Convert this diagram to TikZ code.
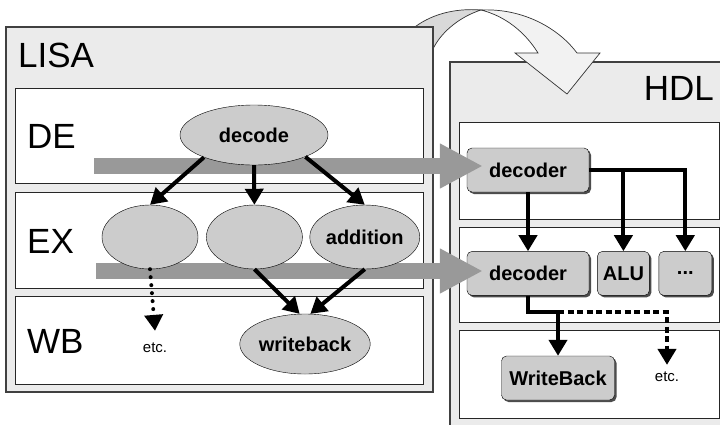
\documentclass[tikz,border=0pt]{standalone}
\usepackage{fontspec}
\setmainfont{Liberation Sans}
\usetikzlibrary{positioning,arrows.meta,shapes.geometric,calc,shadows}
\definecolor{panelgray}{HTML}{EBEBEB}
\definecolor{blobgray}{HTML}{CCCCCC}
\definecolor{pipegray}{HTML}{999999}
\definecolor{ribbonlight}{HTML}{F2F2F2}
\definecolor{ribbondark}{HTML}{D9D9D9}

\begin{document}
\begin{tikzpicture}[
  x=1pt, y=-1pt,
  node distance=8pt,
  panel/.style={draw=black!75, fill=panelgray, line width=1.2pt},
  band/.style={draw=black!85, fill=white, line width=1pt},
  title/.style={font=\fontsize{35}{40}\selectfont, inner sep=0pt},
  op/.style={draw, ellipse, fill=blobgray, inner sep=0pt,
             font=\fontsize{20}{22}\selectfont\bfseries},
  unit/.style={draw, rounded corners=5pt, fill=blobgray, inner sep=0pt,
               minimum height=44pt, font=\fontsize{20}{22}\selectfont\bfseries,
               drop shadow={shadow xshift=2pt, shadow yshift=-2pt, fill=black!70, opacity=1}},
  note/.style={font=\fontsize{15}{17}\selectfont, inner sep=2pt},
  edge/.style={-{Triangle[width=18pt,length=16pt]}, line width=4pt},
  dots/.style={edge, dash pattern=on 0pt off 8pt, line cap=round},
  hdots/.style={edge, dash pattern=on 6pt off 3.5pt},
  pipe/.style={draw=pipegray, line width=16pt, -{Triangle[width=42pt,length=43pt]}}
]
\useasboundingbox (0,0) rectangle (720,424);
\clip (0,0) rectangle (720,424);

\draw[panel] (450,62) rectangle (740,440);
\foreach \t/\b in {122/219, 227/322, 330/418}
  \draw[band] (459,\t) rectangle (719,\b);

\filldraw[fill=ribbondark, draw=black!80, line width=0.7pt]
  (411,30) .. controls (430,14) and (455,8) .. (481,10)
  .. controls (462,16) and (443,30) .. (434,47) -- cycle;
\filldraw[fill=ribbonlight, draw=black!80, line width=0.7pt]
  (481,10) .. controls (525,8) and (560,30) .. (577,53) -- (600,53) -- (567,94)
  -- (515,53) -- (538,53) .. controls (525,32) and (505,16) .. (481,10) -- cycle;

\draw[panel] (6,27) rectangle (433,392);
\foreach \t/\b in {88/183, 192/288, 296/384}
  \draw[band] (15,\t) rectangle (423,\b);

\node[title, anchor=base west] (lisa) at (18,67) {LISA};
\node[title, anchor=base east] (hdl) at (714,100) {HDL};
\node[title, anchor=base west] (de) at (27,148) {DE};
\node[title, anchor=base west] (ex) at (27,253) {EX};
\node[title, anchor=base west] (wb) at (27,353) {WB};

\node[unit, minimum width=122pt] (dec1) at (528,170) {decoder};
\node[unit, minimum width=122pt, below=59pt of dec1] (dec2) {decoder};
\node[unit, minimum width=52pt, right=8pt of dec2] (alu) {ALU};
\node[unit, minimum width=53pt, right=9pt of alu] (more) {...};
\node[unit, minimum width=113pt] (wbunit) at (558,378) {WriteBack};
\node[note] (etc2) at (667,377) {etc.};

\coordinate (deIn) at (94,166);
\coordinate (exIn) at (96,271);
\draw[pipe] (deIn) -- ($(deIn -| dec1.west)+(16,0)$);
\draw[pipe] (exIn) -- ($(exIn -| dec2.west)+(16,0)$);

\node[op, minimum width=148pt, minimum height=60pt] (decode) at (254,135) {decode};
\node[op, minimum width=96pt, minimum height=64pt] (alt1) at (150,237) {};
\node[op, minimum width=96pt, minimum height=64pt, right=8pt of alt1] (alt2) {};
\node[op, minimum width=105pt, minimum height=64pt, right=7pt of alt2] (addition) {addition};
\node[op, minimum width=130pt, minimum height=60pt] (writeback) at (305,344) {writeback};
\node[note] (etc1) at (155,348) {etc.};

\draw[edge] (decode.204) -- (alt1.north);
\draw[edge] (decode.south) -- (alt2.north);
\draw[edge] (decode.-23) -- (addition.north);
\draw[edge] (alt2.south) -- (writeback.100);
\draw[edge] (addition.south) -- (writeback.80);
\draw[dots] (alt1.south) -- ([yshift=10pt]etc1.north);

\draw[edge] (dec1.east) -| (more.north);
\draw[edge] (alu.north |- dec1.east) -- (alu.north);
\draw[edge] (dec1.south) -- (dec2.north);
\coordinate (split) at (558,312);
\draw[edge] (dec2.south) |- (split) -- (wbunit.north);
\draw[hdots] (split) -| ([yshift=5pt]etc2.north);
\end{tikzpicture}
\end{document}
